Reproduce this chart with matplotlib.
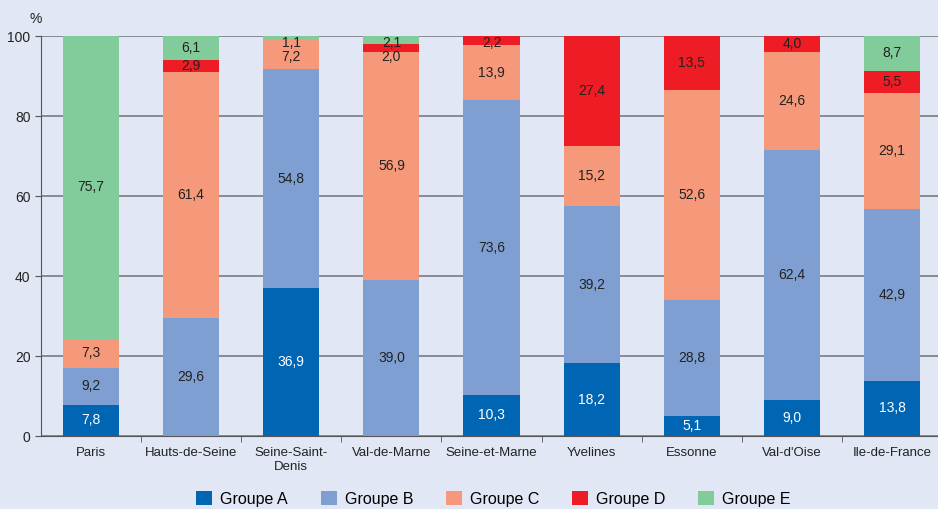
import matplotlib.pyplot as plt
import numpy as np

plt.rcParams['font.family'] = ['Liberation Sans', 'DejaVu Sans']

# Données
departements = ['Paris', 'Hauts-de-Seine', 'Seine-Saint-\nDenis', 'Val-de-Marne',
                'Seine-et-Marne', 'Yvelines', 'Essonne', "Val-d'Oise", 'Ile-de-France']
groupes = ['Groupe A', 'Groupe B', 'Groupe C', 'Groupe D', 'Groupe E']
groupe_a = [7.8, 0, 36.9, 0, 10.3, 18.2, 5.1, 9.0, 13.8]
groupe_b = [9.2, 29.6, 54.8, 39.0, 73.6, 39.2, 28.8, 62.4, 42.9]
groupe_c = [7.3, 61.4, 7.2, 56.9, 13.9, 15.2, 52.6, 24.6, 29.1]
groupe_d = [0, 2.9, 0, 2.0, 2.2, 27.4, 13.5, 4.0, 5.5]
groupe_e = [75.7, 6.1, 1.1, 2.1, 0, 0, 0, 0, 8.7]

couleurs = ['#0066b3', '#7f9fd3', '#f5997a', '#ee1c25', '#82cb9b']
couleurs_texte = ['white', '#222222', '#222222', '#222222', '#222222']
fond = '#e1e7f4'

fig = plt.figure(figsize=(9.38, 5.09), dpi=100, facecolor=fond)
ax = fig.add_axes([41 / 938, 73 / 509, 1 - 41 / 938, 400 / 509], facecolor=fond)

x = np.arange(len(departements))
series = [np.array(s) for s in (groupe_a, groupe_b, groupe_c, groupe_d, groupe_e)]
bas = np.zeros(len(departements))
for vals, nom, c in zip(series, groupes, couleurs):
    ax.bar(x, vals, 0.56, bottom=bas, color=c, label=nom, zorder=3)
    bas += vals

# étiquettes : centrées, mais décalées vers le bas si elles se chevauchent
for i in x:
    cumul = np.cumsum([s[i] for s in series])
    haut = 98.2
    for k in range(len(series) - 1, -1, -1):
        v = series[k][i]
        if v <= 0:
            continue
        y = min(cumul[k] - v / 2, haut)
        haut = y - 3.4
        ax.text(i, y, f'{v:.1f}'.replace('.', ','), ha='center', va='center',
                fontsize=10, color=couleurs_texte[k], zorder=4)

ax.set_xlim(-0.5, 8.46)
ax.set_ylim(0, 100)
ax.set_yticks([0, 20, 40, 60, 80, 100])
ax.yaxis.grid(True, color='#707078', linewidth=1.1, zorder=1)
ax.tick_params(axis='y', labelsize=10, length=4, color='#555555', labelcolor='#222222')

ax.set_xticks(x)
ax.set_xticklabels(departements, fontsize=9.5, color='#222222')
ax.set_xticks(np.arange(0.5, 8.5, 1), minor=True)
ax.tick_params(axis='x', which='major', length=0, pad=8)
ax.tick_params(axis='x', which='minor', length=4, color='#555555')

for s in ['top', 'right']:
    ax.spines[s].set_visible(False)
for s in ['left', 'bottom']:
    ax.spines[s].set_color('#555555')

fig.text(36 / 938, 1 - 19 / 509, '%', ha='center', va='center', fontsize=10, color='#222222')

fig.legend(loc='center', bbox_to_anchor=(0.526, 0.02), ncol=5, frameon=False,
           fontsize=11.5, handlelength=1.0, handleheight=1.0, columnspacing=2.05,
           handletextpad=0.5)

fig.savefig('out.png', dpi=100, facecolor=fond)
